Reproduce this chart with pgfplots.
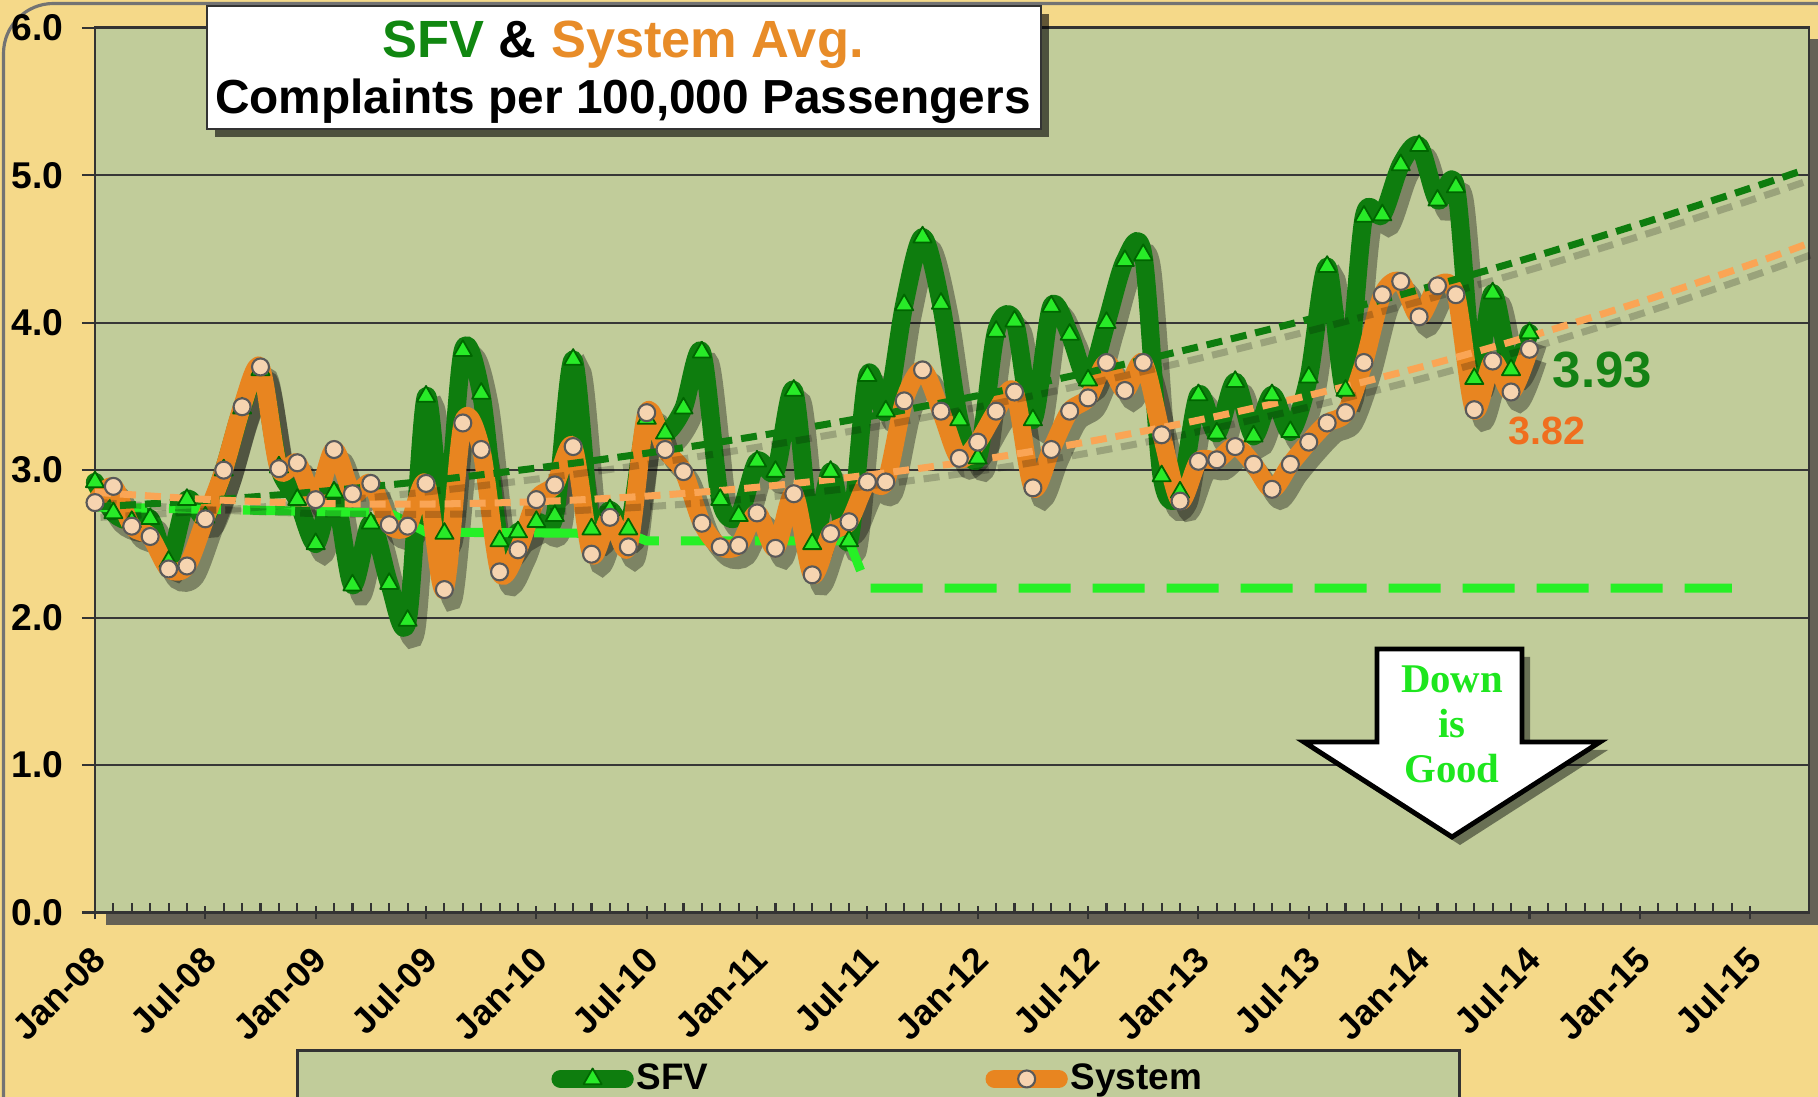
\documentclass[border=0pt]{standalone}
\usepackage{pgfplots}
\pgfplotsset{compat=1.18}
\usepackage{pgfplotstable}
\usepackage{fontspec}
\setmainfont{Liberation Sans}
\newfontfamily\serifbold{Liberation Serif}
\usetikzlibrary{shadows}

\definecolor{outerbg}{RGB}{245,217,137}
\definecolor{plotbg}{RGB}{193,204,154}
\definecolor{sfvline}{RGB}{14,125,14}
\definecolor{sfvmark}{RGB}{40,235,40}
\definecolor{sysline}{RGB}{232,133,32}
\definecolor{sysmark}{RGB}{246,212,176}
\definecolor{systrend}{RGB}{250,165,85}
\definecolor{target}{RGB}{38,240,38}
\definecolor{gridc}{RGB}{55,55,55}
\definecolor{titlegreen}{RGB}{17,135,17}
\definecolor{titleorange}{RGB}{232,140,40}
\definecolor{lab393}{RGB}{20,130,20}
\definecolor{lab382}{RGB}{240,110,30}
\definecolor{downgreen}{RGB}{30,230,30}

\pgfplotstableread{
m sfv sys
0 2.92 2.78
1 2.71 2.89
2 2.65 2.62
3 2.67 2.55
4 2.38 2.33
5 2.80 2.35
6 2.68 2.67
7 3.00 3.00
8 3.42 3.43
9 3.68 3.70
10 3.02 3.01
11 2.80 3.05
12 2.50 2.80
13 2.85 3.14
14 2.22 2.84
15 2.64 2.91
16 2.23 2.63
17 1.98 2.62
18 3.50 2.91
19 2.57 2.19
20 3.81 3.32
21 3.52 3.14
22 2.52 2.31
23 2.58 2.46
24 2.65 2.80
25 2.69 2.90
26 3.75 3.16
27 2.60 2.43
28 2.73 2.68
29 2.60 2.48
30 3.35 3.39
31 3.25 3.14
32 3.42 2.99
33 3.80 2.64
34 2.80 2.48
35 2.69 2.49
36 3.06 2.71
37 2.99 2.47
38 3.54 2.84
39 2.50 2.29
40 2.99 2.57
41 2.52 2.65
42 3.64 2.92
43 3.40 2.92
44 4.12 3.47
45 4.58 3.68
46 4.13 3.40
47 3.34 3.08
48 3.08 3.19
49 3.94 3.40
50 4.01 3.53
51 3.34 2.88
52 4.11 3.14
53 3.92 3.40
54 3.61 3.49
55 4.00 3.73
56 4.42 3.54
57 4.46 3.73
58 2.96 3.24
59 2.85 2.79
60 3.51 3.06
61 3.25 3.07
62 3.60 3.16
63 3.23 3.04
64 3.51 2.87
65 3.26 3.04
66 3.63 3.19
67 4.38 3.32
68 3.54 3.39
69 4.72 3.73
70 4.73 4.19
71 5.07 4.28
72 5.20 4.04
73 4.83 4.25
74 4.92 4.19
75 3.62 3.41
76 4.20 3.74
77 3.68 3.53
78 3.93 3.82
}\datatable

\pgfplotstableread{
m g o
0 2.750 2.850
6 2.795 2.802
12 2.853 2.775
18 2.926 2.770
24 3.014 2.786
30 3.115 2.824
36 3.231 2.884
42 3.361 2.966
48 3.505 3.068
54 3.663 3.193
60 3.836 3.339
66 4.023 3.507
72 4.224 3.696
78 4.439 3.907
84 4.669 4.140
90 4.912 4.394
93 5.039 4.530
}\trendtable

\pgfplotstableread{
m t
0 2.75
16 2.71
18 2.58
29 2.57
30 2.52
41 2.52
42 2.20
89 2.20
}\targettable

\begin{document}
\begin{tikzpicture}
% outer background
\fill[outerbg] (0,0) rectangle (181.8mm,109.7mm);
\draw[black!55, line width=0.9pt, rounded corners=5mm] (0.35mm,-20mm) rectangle (200mm,109.35mm);
% plot area shadow
\fill[black!70, opacity=0.85] (10.6mm,17.2mm) rectangle (182mm,105.8mm);

\begin{axis}[
  at={(9.5mm,18.45mm)}, anchor=south west,
  scale only axis, width=171.4mm, height=88.47mm,
  xmin=0, xmax=93.2, ymin=0, ymax=6,
  axis background/.style={fill=plotbg},
  axis line style={draw=black!80, line width=0.8pt},
  ymajorgrids, major grid style={draw=gridc, line width=0.6pt},
  ytick={0,1,2,3,4,5,6},
  yticklabel style={font=\bfseries\fontsize{10.6}{12}\selectfont, xshift=-0.6mm,
    /pgf/number format/fixed, /pgf/number format/fixed zerofill,
    /pgf/number format/precision=1, /pgf/number format/assume math mode=true},
  xtick={0,6,...,90},
  xticklabels={Jan-08,Jul-08,Jan-09,Jul-09,Jan-10,Jul-10,Jan-11,Jul-11,Jan-12,Jul-12,Jan-13,Jul-13,Jan-14,Jul-14,Jan-15,Jul-15},
  xticklabel style={rotate=45, anchor=north east, font=\bfseries\fontsize{10.2}{12}\selectfont, xshift=-0.44mm, yshift=0.24mm},
  minor x tick num=5,
  tick align=outside,
  major tick length=1.3mm, minor tick length=0.9mm,
  tick style={draw=black!80, line width=0.6pt},
  every minor x tick/.append style={yshift=0.9mm},
  every major x tick/.append style={yshift=0.6mm},
  ytick pos=left, xtick pos=bottom,
  clip=false,
  legend style={at={(0.457,-0.1543)}, anchor=north, draw=black!80, line width=0.8pt,
    fill=plotbg, inner xsep=25.4mm, inner ysep=0.6mm,
    font=\bfseries\fontsize{10.5}{12}\selectfont,
    /tikz/every even column/.append style={column sep=27.4mm},
    nodes={inner xsep=0.3mm}},
  legend columns=2,
  legend cell align=left,
  legend image code/.code={\draw[#1, mark repeat=2, mark phase=2] plot coordinates {(0mm,0mm) (3.2mm,0mm) (6.4mm,0mm)};},
]
% shadows
\addplot[forget plot, draw=black, opacity=0.35, line width=5.2pt, smooth, no markers]
  table[x expr=\thisrow{m}+0.45, y expr=\thisrow{sfv}-0.075]{\datatable};
\addplot[forget plot, draw=black, opacity=0.35, line width=5.2pt, smooth, no markers]
  table[x expr=\thisrow{m}+0.45, y expr=\thisrow{sys}-0.075]{\datatable};

% SFV
\addplot[draw=sfvline, line width=5.2pt, smooth, line cap=round, line join=round,
  mark=triangle*, mark size=1.05mm, mark options={fill=sfvmark, draw=black!60!green, line width=0.5pt, solid}]
  table[x=m, y=sfv]{\datatable};
\addlegendentry{SFV}

% target
\addplot[forget plot, draw=target, line width=2.6pt, dash pattern=on 5.2mm off 2.2mm, no markers]
  table[x=m, y=t]{\targettable};

% System
\addplot[draw=sysline, line width=5.2pt, smooth, line cap=round, line join=round,
  mark=*, mark size=0.85mm, mark options={fill=sysmark, draw=black!65, line width=0.6pt, solid}]
  table[x=m, y=sys]{\datatable};
\addlegendentry{System}

% trend shadows
\addplot[forget plot, draw=black, opacity=0.2, line width=2pt, dash pattern=on 1.6mm off 0.9mm, smooth, no markers]
  table[x expr=\thisrow{m}+0.3, y expr=\thisrow{g}-0.07]{\trendtable};
\addplot[forget plot, draw=black, opacity=0.2, line width=2pt, dash pattern=on 1.6mm off 0.9mm, smooth, no markers]
  table[x expr=\thisrow{m}+0.3, y expr=\thisrow{o}-0.07]{\trendtable};
% trends
\addplot[forget plot, draw=sfvline, line width=2pt, dash pattern=on 1.6mm off 0.9mm, smooth, no markers]
  table[x=m, y=g]{\trendtable};
\addplot[forget plot, draw=systrend, line width=2pt, dash pattern=on 1.6mm off 0.9mm, smooth, no markers]
  table[x=m, y=o]{\trendtable};
\end{axis}

% title box
\node[draw=black!80, line width=0.6pt, fill=white, minimum width=83.4mm, minimum height=12.3mm,
  anchor=north west, inner sep=0pt,
  drop shadow={shadow xshift=0.8mm, shadow yshift=-0.8mm, fill=black, opacity=0.6}] at (20.6mm,109.24mm) {};
\node[anchor=base, font=\bfseries\fontsize{14.9}{17}\selectfont, inner sep=0pt] at (62.3mm,103.9mm)
  {\textcolor{titlegreen}{SFV} \& \textcolor{titleorange}{System Avg.}};
\node[anchor=base, font=\bfseries\fontsize{13.6}{16}\selectfont, inner sep=0pt] at (62.3mm,98.3mm)
  {Complaints per 100,000 Passengers};

% end labels
\node[anchor=base west, inner sep=0pt, text=lab393, font=\bfseries\fontsize{14.5}{16}\selectfont] at (155.2mm,70.9mm) {3.93};
\node[anchor=base west, inner sep=0pt, text=lab382, font=\bfseries\fontsize{11.2}{13}\selectfont] at (150.8mm,65.2mm) {3.82};

% Down is Good arrow
\filldraw[fill=white, draw=black, line width=1.4pt, line join=miter,
  drop shadow={shadow xshift=0.8mm, shadow yshift=-0.8mm, fill=black, opacity=0.45}]
  (137.7mm,44.8mm) -- (152.2mm,44.8mm) -- (152.2mm,35.5mm) -- (160.0mm,35.5mm)
  -- (145.2mm,26.0mm) -- (130.4mm,35.5mm) -- (137.7mm,35.5mm) -- cycle;
\node[anchor=base, inner sep=0pt, text=downgreen, font=\serifbold\bfseries\fontsize{11.6}{13}\selectfont] at (145.2mm,40.4mm) {Down};
\node[anchor=base, inner sep=0pt, text=downgreen, font=\serifbold\bfseries\fontsize{11.6}{13}\selectfont] at (145.2mm,35.9mm) {is};
\node[anchor=base, inner sep=0pt, text=downgreen, font=\serifbold\bfseries\fontsize{11.6}{13}\selectfont] at (145.2mm,31.4mm) {Good};

\pgfresetboundingbox
\useasboundingbox (0,0) rectangle (181.8mm,109.7mm);
\end{tikzpicture}
\end{document}
